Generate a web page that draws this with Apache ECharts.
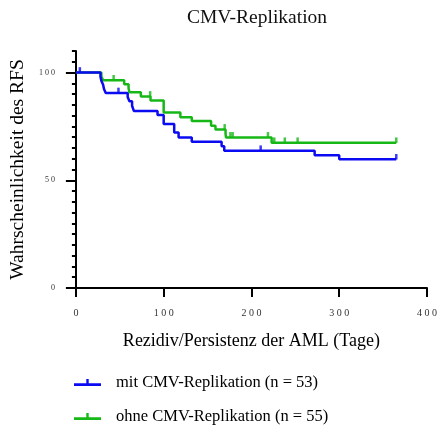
<!DOCTYPE html>
<html><head><meta charset="utf-8">
<script src="https://cdn.jsdelivr.net/npm/echarts@6/dist/echarts.min.js"></script>
<style>html,body{margin:0;padding:0;background:#fff}#c{width:440px;height:430px}</style>
</head><body><div id="c"></div>
<script>
const seriesNames = ['mit CMV-Replikation (n = 53)', 'ohne CMV-Replikation (n = 55)'];
const mitSteps = [[0,100],[28,98.1],[29,96.2],[31,94.3],[32,92.4],[34,90.5],[59,88.6],[61,86.7],[64,84.6],[66,82.2],[93,80.3],[100,76.1],[112,72.2],[117,69.9],[132,67.9],[166,65.8],[169,63.7],[272,61.6],[300,59.7],[365,59.7]];
const mitCensored = [[4.5,100],[48.5,90.5],[210.5,63.7],[365,59.7]];
const ohneSteps = [[0,100],[29,98.2],[31,96.4],[55,94.6],[60,92.7],[61,90.9],[74,88.9],[85,87.0],[100,81.4],[119,79.2],[132,77.5],[154,75.3],[159,73.6],[170.5,71.7],[171,69.9],[223,67.4],[365,67.4]];
const ohneCensored = [[43,96.4],[84.6,88.9],[169.5,73.6],[176,69.9],[178.6,69.9],[218.8,69.9],[226,67.4],[238,67.4],[252.6,67.4],[365,67.4]];
const xTicks = [0,100,200,300,400];
const yTicks = [0,50,100];
const titleText = 'CMV-Replikation';
const xName = 'Rezidiv/Persistenz der AML (Tage)';
const yName = 'Wahrscheinlichkeit des RFS';

const BLUE = '#0b0bf2', GREEN = '#16b816';
const FONT = '"Liberation Serif","Times New Roman",serif';
const spaced = v => String(v).split('').join(' ');

const chart = echarts.init(document.getElementById('c'), null, {renderer:'canvas'});
chart.setOption({
  animation: false,
  backgroundColor: '#fff',
  title: {text: titleText, left: 252, textAlign: 'center', top: 3,
    textStyle: {fontFamily: FONT, fontSize: 19.5, fontWeight: 'normal', color: '#111'}},
  grid: {left: 74, right: 11, top: 51, bottom: 142},
  legend: {
    data: seriesNames, orient: 'vertical', left: 74, top: 374, padding: 0,
    itemWidth: 27, itemHeight: 10, itemGap: 17,
    icon: 'path://M0,4.2H27V6.8H0Z M12.3,0H14.7V4.2H12.3Z',
    textStyle: {fontFamily: FONT, fontSize: 16.5, color: '#000', padding: [0,0,0,10]}
  },
  xAxis: {
    type: 'value', min: 0, max: 400, interval: 100,
    name: xName, nameLocation: 'middle', nameGap: 44,
    nameTextStyle: {fontFamily: FONT, fontSize: 18, color: '#000'},
    axisLine: {lineStyle: {color: '#000', width: 2}},
    axisTick: {length: 9, lineStyle: {color: '#000', width: 2}},
    axisLabel: {formatter: spaced, fontFamily: FONT, fontSize: 10, color: '#333', margin: 20},
    splitLine: {show: false}
  },
  yAxis: [{
    type: 'value', min: 0, max: 110, interval: 50,
    name: yName, nameLocation: 'middle', nameGap: 46,
    nameTextStyle: {fontFamily: FONT, fontSize: 19.5, color: '#000'},
    axisLine: {show: true, lineStyle: {color: '#000', width: 2}},
    axisTick: {show: true, length: 10, customValues: yTicks, lineStyle: {color: '#000', width: 2}},
    axisLabel: {customValues: yTicks, formatter: spaced, fontFamily: FONT, fontSize: 8, color: '#333', margin: 21},
    splitLine: {show: false}
  }, {
    type: 'value', min: 0, max: 110, interval: 5, position: 'left',
    axisLine: {show: false},
    axisTick: {show: true, length: 4, lineStyle: {color: '#000', width: 2}},
    axisLabel: {show: false},
    splitLine: {show: false}
  }],
  series: [
    {name: seriesNames[0], type: 'line', step: 'end', data: mitSteps, showSymbol: false, z: 3,
      color: BLUE, lineStyle: {color: BLUE, width: 2.5}, itemStyle: {color: BLUE}, emphasis: {disabled: true}},
    {name: seriesNames[1], type: 'line', step: 'end', data: ohneSteps, showSymbol: false, z: 2,
      color: GREEN, lineStyle: {color: GREEN, width: 2.5}, itemStyle: {color: GREEN}, emphasis: {disabled: true}},
    {name: 'mitZensiert', type: 'scatter', data: mitCensored, symbol: 'rect', symbolSize: [2.5, 5.5], symbolOffset: [0, -2.6],
      itemStyle: {color: BLUE}, z: 4, emphasis: {disabled: true}},
    {name: 'ohneZensiert', type: 'scatter', data: ohneCensored, symbol: 'rect', symbolSize: [2.5, 5.5], symbolOffset: [0, -2.6],
      itemStyle: {color: GREEN}, z: 4, emphasis: {disabled: true}}
  ]
});
</script></body></html>
